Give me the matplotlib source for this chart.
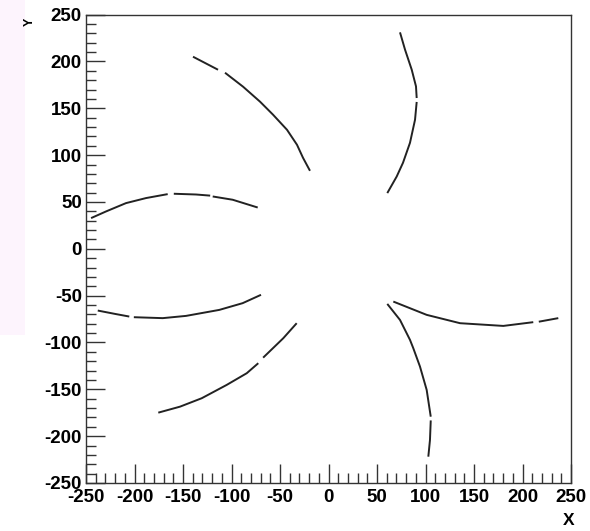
import matplotlib
matplotlib.use('Agg')
import matplotlib.pyplot as plt
import numpy as np
from matplotlib.ticker import MultipleLocator
from matplotlib.patches import Rectangle

plt.rcParams['axes.unicode_minus'] = False

### DATA (nan = small gap in the track) ###
nan = np.nan

arc1_x = [-139.7, -113.9, nan, -106.7, -88.1, -70.6, -57.2, -42.8, -32.5, -26.3, -19.1]
arc1_y = [205.1, 191.2, nan, 188.0, 173.1, 157.1, 143.2, 127.1, 111.1, 97.2, 83.3]

arc2_x = [73.7, 78.9, 85.8, 90.2, 90.9, nan, 90.9, 89.2, 84.0, 76.8, 70.3, 60.6]
arc2_y = [231.1, 212.6, 191.2, 173.4, 161.0, nan, 156.8, 137.8, 113.2, 91.9, 77.2, 59.5]

arc3_x = [-244.8, -229.4, -208.8, -188.1, -165.8, nan, -159.5, -136.6, -122.0, nan, -119.4, -98.8, -73.0]
arc3_y = [32.8, 39.9, 48.8, 54.2, 58.4, nan, 58.8, 58.0, 56.8, nan, 55.9, 52.4, 44.1]

arc4_x = [-237.9, -220.0, -205.4, nan, -200.7, -170.9, -146.9, -112.6, -88.5, -69.6]
arc4_y = [-65.9, -69.5, -72.3, nan, -73.0, -74.0, -71.6, -65.2, -58.0, -49.1]

arc5_x = [-175.5, -153.1, -130.7, -105.0, -84.3, -72.4, nan, -67.4, -46.6, -32.8]
arc5_y = [-174.9, -168.5, -159.5, -145.3, -132.8, -122.1, nan, -116.2, -95.4, -79.4]

arc6_x = [60.6, 73.7, 84.0, 87.4, 94.3, 101.2, 105.4, nan, 105.4, 104.6, 102.9]
arc6_y = [-58.8, -75.9, -97.2, -106.1, -125.7, -150.6, -179.2, nan, -183.2, -204.1, -221.9]

arc7_x = [66.8, 101.2, 135.6, 180.2, 211.1, nan, 216.8, 236.9]
arc7_y = [-56.3, -70.5, -79.4, -82.3, -78.3, nan, -77.8, -74.0]

arcs_x = [arc1_x, arc2_x, arc3_x, arc4_x, arc5_x, arc6_x, arc7_x]
arcs_y = [arc1_y, arc2_y, arc3_y, arc4_y, arc5_y, arc6_y, arc7_y]

### PLOT ###
fig = plt.figure(figsize=(5.9, 5.31), dpi=100)
fig.patch.set_facecolor('white')
# faint pink strip on the left of the canvas
fig.patches.append(Rectangle((0, 0.37), 0.042, 0.63, transform=fig.transFigure,
                             facecolor='#fdf4fd', edgecolor='none', zorder=0))

ax = fig.add_axes([0.1458, 0.0904, 0.822, 0.882])

for xs, ys in zip(arcs_x, arcs_y):
    ax.plot(xs, ys, color='#222222', lw=1.4, solid_capstyle='butt')

ax.set_xlim(-250, 250)
ax.set_ylim(-250, 250)

ax.xaxis.set_major_locator(MultipleLocator(50))
ax.xaxis.set_minor_locator(MultipleLocator(10))
ax.yaxis.set_major_locator(MultipleLocator(50))
ax.yaxis.set_minor_locator(MultipleLocator(10))
ax.tick_params(which='both', direction='in', top=False, right=False, color='#333333', width=1)
ax.tick_params(which='major', length=14)
ax.tick_params(axis='x', which='major', pad=4)
ax.tick_params(axis='y', which='major', pad=3)
ax.tick_params(which='minor', length=7)
for lab in ax.get_xticklabels() + ax.get_yticklabels():
    lab.set_fontfamily('Liberation Sans')
    lab.set_fontweight('bold')
    lab.set_fontsize(13.5)
for sp in ax.spines.values():
    sp.set_color('#333333')
    sp.set_linewidth(1)

fig.text(0.954, 0.012, 'X', fontfamily='Liberation Sans', fontweight='bold', fontsize=12.5)
fig.text(0.05, 0.958, 'Y', fontfamily='Liberation Sans', fontweight='bold', fontsize=9,
         rotation=90, ha='center', va='center')

fig.savefig('out.png', dpi=100)
